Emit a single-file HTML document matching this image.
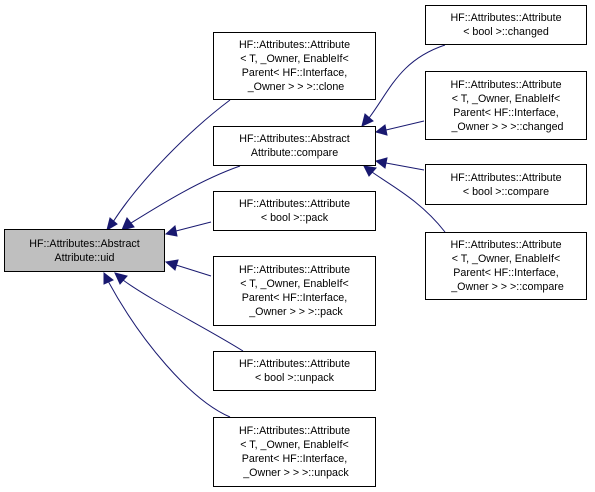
<!DOCTYPE html>
<html><head><meta charset="utf-8"><style>
html,body{margin:0;padding:0;background:#fff;}
body{width:595px;height:492px;position:relative;overflow:hidden;font-family:"Liberation Sans",sans-serif;}
.n{position:absolute;box-sizing:border-box;border:1px solid #000;background:#fff;font-size:10.7px;line-height:14px;text-align:center;display:flex;align-items:center;justify-content:center;white-space:pre;color:#000;}
.g{background:#bfbfbf;}
svg{position:absolute;left:0;top:0;}
</style></head><body>
<svg width="595" height="492">
<g fill="none" stroke="#191970" stroke-width="1">
<path d="M113,222 C140,180 190,130 230,100"/>
<path d="M131,223 C160,205 200,180 240,166"/>
<path d="M176,231 L211,222"/>
<path d="M176,265 L211,276"/>
<path d="M123,280 C150,300 210,330 243,351"/>
<path d="M108,281 C140,340 190,400 230,417"/>
<path d="M369,118 C390,90 400,60 445,45"/>
<path d="M386,130 L424,121"/>
<path d="M386,163 L424,170"/>
<path d="M372,172 C390,185 420,200 445,232"/>
</g>
<g fill="#191970" stroke="#191970">
<polygon points="107,230 110,218 117,224"/>
<polygon points="122,230 127,218 134,227"/>
<polygon points="166,234 175,226 177,236"/>
<polygon points="166,262 178,260 175,270"/>
<polygon points="115,273 127,276 120,284"/>
<polygon points="104,273 113,280 104,284"/>
<polygon points="362,126 365,114 373,121"/>
<polygon points="376,132 385,125 387,135"/>
<polygon points="376,161 387,158 385,168"/>
<polygon points="364,166 376,168 369,176"/>
</g></svg>
<div class="n g" style="left:4px;top:229px;width:161px;height:43px;">HF::Attributes::Abstract
Attribute::uid</div>
<div class="n" style="left:213px;top:32px;width:163px;height:68px;">HF::Attributes::Attribute
&lt; T, _Owner, EnableIf&lt;
Parent&lt; HF::Interface,
 _Owner &gt; &gt; &gt;::clone</div>
<div class="n" style="left:213px;top:126px;width:163px;height:40px;">HF::Attributes::Abstract
Attribute::compare</div>
<div class="n" style="left:213px;top:191px;width:163px;height:40px;">HF::Attributes::Attribute
&lt; bool &gt;::pack</div>
<div class="n" style="left:213px;top:256px;width:163px;height:70px;">HF::Attributes::Attribute
&lt; T, _Owner, EnableIf&lt;
Parent&lt; HF::Interface,
 _Owner &gt; &gt; &gt;::pack</div>
<div class="n" style="left:213px;top:351px;width:163px;height:40px;">HF::Attributes::Attribute
&lt; bool &gt;::unpack</div>
<div class="n" style="left:213px;top:417px;width:163px;height:70px;">HF::Attributes::Attribute
&lt; T, _Owner, EnableIf&lt;
Parent&lt; HF::Interface,
 _Owner &gt; &gt; &gt;::unpack</div>
<div class="n" style="left:425px;top:5px;width:162px;height:40px;">HF::Attributes::Attribute
&lt; bool &gt;::changed</div>
<div class="n" style="left:425px;top:71px;width:162px;height:69px;">HF::Attributes::Attribute
&lt; T, _Owner, EnableIf&lt;
Parent&lt; HF::Interface,
 _Owner &gt; &gt; &gt;::changed</div>
<div class="n" style="left:425px;top:164px;width:162px;height:41px;">HF::Attributes::Attribute
&lt; bool &gt;::compare</div>
<div class="n" style="left:425px;top:232px;width:162px;height:68px;">HF::Attributes::Attribute
&lt; T, _Owner, EnableIf&lt;
Parent&lt; HF::Interface,
 _Owner &gt; &gt; &gt;::compare</div>
</body></html>
